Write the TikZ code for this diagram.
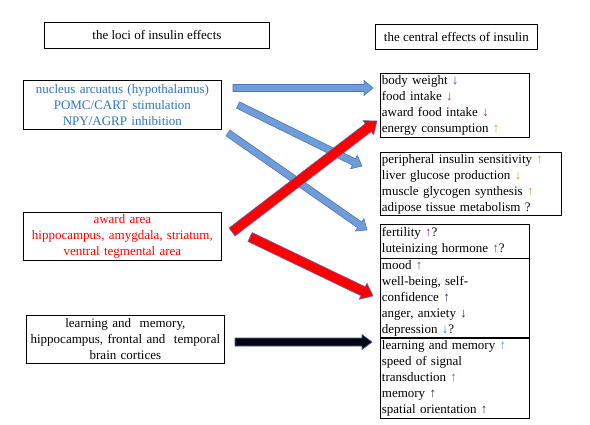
\documentclass[tikz,border=0pt]{standalone}
\usepackage{fontspec}
\setmainfont{Liberation Serif}
\usetikzlibrary{calc}
\definecolor{txtblue}{RGB}{46,116,190}
\definecolor{txtred}{RGB}{255,0,0}
\definecolor{arrblue}{RGB}{112,156,216}
\definecolor{arrblueline}{RGB}{72,118,190}
\definecolor{arrred}{RGB}{255,0,0}
\definecolor{arrredline}{RGB}{90,110,200}
\definecolor{arrblack}{RGB}{5,5,20}
\definecolor{arrblackline}{RGB}{60,95,160}
\definecolor{upurple}{RGB}{112,48,160}
\definecolor{umagenta}{RGB}{150,30,120}
\definecolor{uorange}{RGB}{226,142,50}
\definecolor{ublue}{RGB}{70,120,190}
\definecolor{ulblue}{RGB}{90,150,200}
\definecolor{udark}{RGB}{40,40,70}
\newcommand\uparr[1]{\textcolor{#1}{↑}}
\newcommand\dnarr[1]{\textcolor{#1}{↓}}
% block arrow: from, to, half shaft, half head, head length, style
\newcommand\blockarr[6]{%
  \coordinate (tmph) at ($(#2)!#5!(#1)$);
  \path[#6] ($(#1)!#3!90:(#2)$) -- ($(tmph)!#3!90:(#2)$) -- ($(tmph)!#4!90:(#2)$)
    -- (#2) -- ($(tmph)!#4!-90:(#2)$) -- ($(tmph)!#3!-90:(#2)$)
    -- ($(#1)!#3!-90:(#2)$) -- cycle;}
\begin{document}
\begin{tikzpicture}[x=1pt,y=-1pt,
  box/.style={draw=black, line width=0.8pt, inner xsep=1.2pt, inner ysep=0pt,
    anchor=north west, font=\fontsize{13}{16}\selectfont},
  rbox/.style={box, align=left},
  lbox/.style={box, align=center},
  bluearr/.style={fill=arrblue, draw=arrblueline, line width=0.6pt, line join=miter},
  redarr/.style={fill=arrred, draw=arrredline, line width=0.5pt, line join=miter},
  blackarr/.style={fill=arrblack, draw=arrblackline, line width=0.7pt, line join=miter}]
\useasboundingbox (0,0) rectangle (590,424);

% headers
\node[lbox, minimum width=225pt, minimum height=26pt] (hl) at (44,22) {the loci of insulin effects};
\node[lbox, minimum width=162pt, minimum height=25pt] (hr) at (375,24) {the central effects of insulin};

% left boxes
\node[lbox, text=txtblue, minimum width=198pt, minimum height=49pt, text width=195pt] (l1) at (23,80)
  {nucleus arcuatus (hypothalamus)\\POMC/CART stimulation\\NPY/AGRP inhibition};
\node[lbox, text=txtred, minimum width=198pt, minimum height=48pt, text width=195pt] (l2) at (23,212)
  {award area\\hippocampus, amygdala, striatum,\\ventral tegmental area};
\node[lbox, minimum width=198pt, minimum height=48pt, text width=195pt] (l3) at (26,315)
  {learning and\ \ memory,\\hippocampus, frontal and\ \ temporal\\brain cortices};

% right boxes
\node[rbox, minimum width=149pt, minimum height=64pt, text width=146pt] (r1) at (380,73)
  {body weight \dnarr{upurple}\\food intake \dnarr{upurple}\\award food intake \dnarr{umagenta}\\energy consumption \uparr{uorange}};
\node[rbox, minimum width=181pt, minimum height=63pt, text width=178pt] (r2) at (380,152)
  {peripheral insulin sensitivity \uparr{uorange}\\liver glucose production \dnarr{uorange}\\muscle glycogen synthesis \uparr{uorange}\\adipose tissue metabolism ?};
\node[rbox, minimum width=149pt, minimum height=34pt, text width=146pt] (r3) at (380,224)
  {fertility \uparr{upurple}?\\luteinizing hormone \uparr{upurple}?};
\node[rbox, minimum width=149pt, minimum height=79pt, text width=146pt] (r4) at (380,258)
  {mood \uparr{upurple}\\well-being, self-\\confidence \uparr{udark}\\anger, anxiety \dnarr{udark}\\depression \dnarr{ublue}?};
\node[rbox, minimum width=149pt, minimum height=80pt, text width=146pt] (r5) at (380,338)
  {learning and memory \uparr{ulblue}\\speed of signal\\transduction \uparr{ublue}\\memory \uparr{udark}\\spatial orientation \uparr{udark}};

% arrow end points
\coordinate (a1s) at (233,88);  \coordinate (a1e) at (373,88);
\coordinate (a2s) at (238,105); \coordinate (a2e) at (362,166);
\coordinate (a3s) at (228,133); \coordinate (a3e) at (367,230);
\coordinate (b1s) at (232,232); \coordinate (b1e) at (377,121);
\coordinate (b2s) at (250,237); \coordinate (b2e) at (373,296);
\coordinate (k1s) at (235,342); \coordinate (k1e) at (372,342);

% arrows
\blockarr{a1s}{a1e}{3.5pt}{7.5pt}{9pt}{bluearr}
\blockarr{a2s}{a2e}{3.5pt}{7.5pt}{9pt}{bluearr}
\blockarr{a3s}{a3e}{3.5pt}{7.5pt}{9pt}{bluearr}
\blockarr{b1s}{b1e}{5pt}{9pt}{11pt}{redarr}
\blockarr{b2s}{b2e}{5pt}{9pt}{11pt}{redarr}
\blockarr{k1s}{k1e}{4pt}{7.5pt}{10pt}{blackarr}
\end{tikzpicture}
\end{document}
